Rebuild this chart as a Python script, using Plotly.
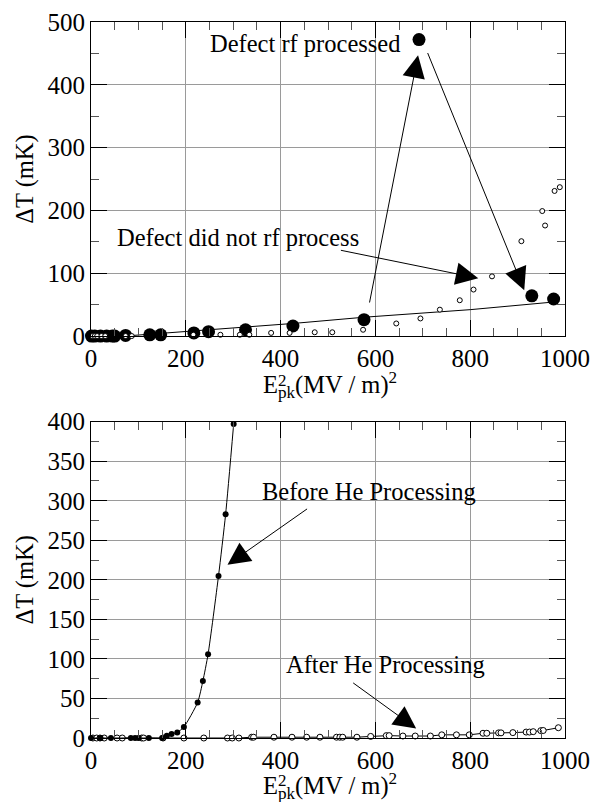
import plotly.graph_objects as go
from plotly.subplots import make_subplots

# ---- Top panel data ----
top_filled_x = [1, 8, 20, 33, 45, 50, 73, 124, 147, 217, 248, 326, 426, 576, 692, 930, 976]
top_filled_y = [0, 0, 0, 0, 0, 0, 1, 2, 2, 5, 7, 10, 16, 26, 472, 64, 59]
top_open_x = [3, 8, 13, 22, 30, 73, 86, 216, 273, 314, 334, 380, 419, 472, 509, 574,
              644, 695, 736, 778, 807, 846, 908, 952, 958, 978, 989]
top_open_y = [0, 0, 0, 0, 0, 0, 0, 2, 2, 2, 2, 5, 5, 6, 6, 10,
              20, 28, 42, 57, 74, 95, 151, 199, 176, 231, 237]
top_fit_x = [72, 250, 426, 577, 800, 988]
top_fit_y = [0, 10, 20, 30, 42, 55]

# ---- Bottom panel data ----
before_x = [0, 20, 42, 84, 93, 100, 122, 150, 160, 170, 182, 196, 225, 236, 247, 269, 284, 301]
before_y = [0, 0, 0, 0, 0, 0, 0, 0, 3, 5, 7, 14, 45, 72, 106, 205, 283, 397]
after_x = [4, 12, 19, 28, 55, 66, 107, 111, 152, 196, 238, 288, 298, 312, 339, 343, 386,
           424, 455, 483, 518, 525, 531, 561, 590, 623, 629, 658, 684, 716, 740, 771,
           798, 827, 835, 860, 865, 890, 918, 925, 933, 949, 954, 986]
after_y = [0, 0, 0, 0, 0, 0, 0, 0, 0, 0, 0, 0, 0, 0, 1, 1, 1,
           1, 1, 1, 1, 1, 1, 1, 2, 3, 3, 2.5, 2.5, 2.5, 4, 4,
           4, 6, 6, 6.5, 6.5, 6.8, 7.5, 7.5, 8, 9.3, 9.5, 13]

FONT = "Liberation Serif, Times New Roman, Times, serif"
TICK_SIZE = 25
TEXT_SIZE = 24.5

# page geometry (the page body adds an 8 px offset)
OFF = 8
PL, PR, PT, PB = 90.7, 565.5, 21.7, 738.3   # plot area in page pixels
W, H = 596, 794

fig = make_subplots(rows=2, cols=1, vertical_spacing=0.1196)

fig.add_trace(go.Scatter(x=top_fit_x, y=top_fit_y, mode="lines",
                         line=dict(color="black", width=1), cliponaxis=False), row=1, col=1)
fig.add_trace(go.Scatter(x=top_filled_x, y=top_filled_y, mode="markers",
                         marker=dict(size=13, color="black"), cliponaxis=False), row=1, col=1)
fig.add_trace(go.Scatter(x=top_open_x, y=top_open_y, mode="markers",
                         marker=dict(size=5, color="white", line=dict(color="black", width=1)),
                         cliponaxis=False), row=1, col=1)

fig.add_trace(go.Scatter(x=after_x, y=after_y, mode="lines+markers",
                         line=dict(color="black", width=1),
                         marker=dict(size=6, color="white", line=dict(color="black", width=1)),
                         cliponaxis=False), row=2, col=1)
fig.add_trace(go.Scatter(x=before_x, y=before_y, mode="lines+markers",
                         line=dict(color="black", width=1, shape="spline", smoothing=0.6),
                         marker=dict(size=6, color="black"),
                         cliponaxis=False), row=2, col=1)

axis_common = dict(
    showline=True, linecolor="black", linewidth=1, mirror="allticks",
    ticks="inside", ticklen=16, tickwidth=1, tickcolor="black",
    showgrid=True, gridcolor="#9a9a9a", gridwidth=1, zeroline=False,
    automargin=False,
    minor=dict(ticks="inside", ticklen=8, tickcolor="#555555", showgrid=False),
)

for r in (1, 2):
    fig.update_xaxes(range=[0, 1000], dtick=200, minor_dtick=50, row=r, col=1, **axis_common)
fig.update_yaxes(range=[0, 500], dtick=100, minor_dtick=50, row=1, col=1, **axis_common)
fig.update_yaxes(range=[0, 400], dtick=50, minor_dtick=25, row=2, col=1, **axis_common)
fig.update_xaxes(tickfont_family=FONT, tickfont_size=TICK_SIZE, tickfont_color="black")
fig.update_yaxes(tickfont_family=FONT, tickfont_size=TICK_SIZE, tickfont_color="black",
                 title_text="ΔT (mK)", title_font_family=FONT, title_font_size=TEXT_SIZE,
                 title_font_color="black", title_standoff=6)


def to_paper(px, py):
    return (px - PL) / (PR - PL), 1 - (py - PT) / (PB - PT)


tfont = dict(family=FONT, size=TEXT_SIZE, color="black")
labels = [
    (305, 43, "Defect rf processed"),
    (238, 237, "Defect did not rf process"),
    (369, 492, "Before He Processing"),
    (386, 665, "After He Processing"),
]
for px, py, txt in labels:
    xp, yp = to_paper(px, py)
    fig.add_annotation(x=xp, y=yp, xref="paper", yref="paper", text=txt,
                       showarrow=False, font=tfont, xanchor="center", yanchor="middle")

# x-axis titles with the "2" stacked above "pk"
for ey in (385, 786):
    xp, yp = to_paper(261, ey)
    fig.add_annotation(x=xp, y=yp, xref="paper", yref="paper",
                       text="E<sub>pk</sub>(MV / m)<sup>2</sup>", showarrow=False,
                       font=tfont, xanchor="left", yanchor="middle")
    xp2, yp2 = to_paper(276.5, ey - 5)
    fig.add_annotation(x=xp2, y=yp2, xref="paper", yref="paper", text="2",
                       showarrow=False, font=dict(family=FONT, size=17, color="black"),
                       xanchor="left", yanchor="middle")

arrows = [
    (1, 690, 447, 587, 51),
    (1, 914, 73, 709, 453),
    (1, 817, 92, 524, 137),
    (2, 288, 219, 459, 291),
    (2, 686, 12, 550, 71),
]
for row, hx, hy, tx, ty in arrows:
    xr = "x" if row == 1 else "x2"
    yr = "y" if row == 1 else "y2"
    fig.add_annotation(x=hx, y=hy, ax=tx, ay=ty, xref=xr, yref=yr, axref=xr, ayref=yr,
                       text="", showarrow=True, arrowhead=2, arrowsize=4.5, arrowwidth=1,
                       arrowcolor="black")

fig.update_layout(
    width=W, height=H, showlegend=False,
    margin=dict(l=PL - OFF, r=OFF + W - PR, t=PT - OFF, b=OFF + H - PB, autoexpand=False),
    paper_bgcolor="white", plot_bgcolor="white",
    font=dict(family=FONT, color="black", size=TICK_SIZE),
)
fig.update_layout(yaxis=dict(domain=[0.5614, 1.0]), yaxis2=dict(domain=[0.0, 0.4418]))

fig.write_html("out.html")
